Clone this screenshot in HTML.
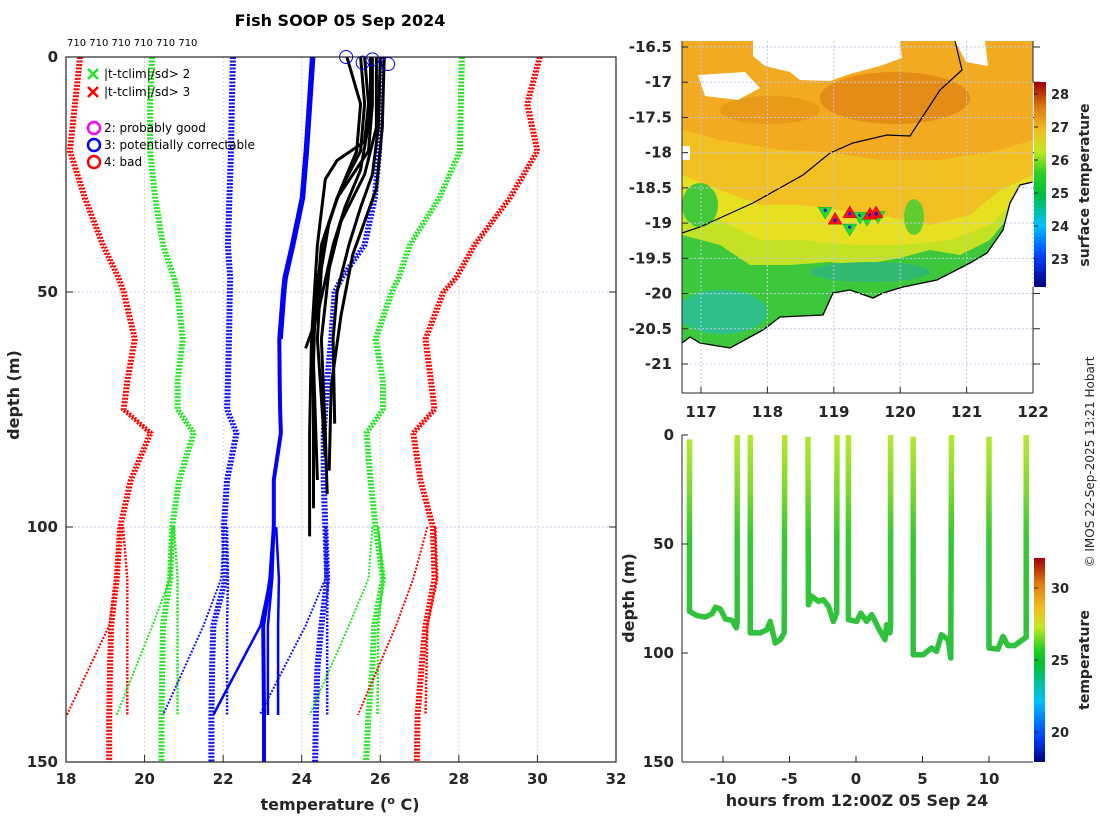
<!DOCTYPE html>
<html><head><meta charset="utf-8"><style>
html,body{margin:0;padding:0;background:#fff;}
svg{display:block;font-family:"DejaVu Sans","Liberation Sans",sans-serif;}
.tk{font-size:15px;font-weight:bold;fill:#262626;}
.lab{font-size:16px;font-weight:bold;fill:#262626;}
.leg{font-size:12px;fill:#000;}
</style></head><body>
<svg id="fig" width="1100" height="820" viewBox="0 0 1100 820" xmlns="http://www.w3.org/2000/svg">
<defs>
<linearGradient id="jet" x1="0" y1="1" x2="0" y2="0">
<stop offset="0" stop-color="#000080"/><stop offset="0.15" stop-color="#0040ff"/><stop offset="0.3" stop-color="#00c0ff"/><stop offset="0.45" stop-color="#00c040"/><stop offset="0.56" stop-color="#30d020"/><stop offset="0.66" stop-color="#c0e820"/><stop offset="0.76" stop-color="#f0c020"/><stop offset="0.87" stop-color="#e08010"/><stop offset="1" stop-color="#a00000"/>
</linearGradient>
<linearGradient id="jet2" x1="0" y1="1" x2="0" y2="0">
<stop offset="0" stop-color="#000080"/><stop offset="0.12" stop-color="#0040ff"/><stop offset="0.3" stop-color="#00c0ff"/><stop offset="0.48" stop-color="#00c030"/><stop offset="0.55" stop-color="#20d020"/><stop offset="0.66" stop-color="#c0e820"/><stop offset="0.75" stop-color="#f0c020"/><stop offset="0.87" stop-color="#e08010"/><stop offset="1" stop-color="#a00000"/>
</linearGradient>
<linearGradient id="tsg" gradientUnits="userSpaceOnUse" x1="0" y1="435" x2="0" y2="660">
<stop offset="0" stop-color="#b8e830"/><stop offset="0.25" stop-color="#7cd830"/><stop offset="0.45" stop-color="#38c832"/><stop offset="1" stop-color="#2cc040"/>
</linearGradient>
<clipPath id="mapclip"><rect x="682" y="41" width="351" height="352"/></clipPath>
<clipPath id="leftclip"><rect x="66" y="57" width="550" height="705"/></clipPath>
</defs>

<text x="340" y="26" text-anchor="middle" style="font-size:16px;font-weight:bold">Fish SOOP 05 Sep 2024</text>
<text x="67" y="46" style="font-size:10px">710 710 710 710 710 710</text>

<g id="left"></g>
<g id="map"></g>
<g id="ts"></g>

<text transform="translate(1094,462) rotate(-90)" text-anchor="middle" style="font-size:12px" fill="#262626">© IMOS 22-Sep-2025 13:21 Hobart</text>
</svg>
<script>
const NS='http://www.w3.org/2000/svg';
function mk(parent,tag,attrs,text){const e=document.createElementNS(NS,tag);for(const k in attrs)e.setAttribute(k,attrs[k]);if(text!==undefined)e.textContent=text;parent.appendChild(e);return e;}

// ===== Left profile plot data =====
const climDepths=[0,10,20,30,40,47,50,60,69,75,80,90,100,111,121,130,140,150];
const climRedL=[18.36,18.23,18.1,18.48,18.94,19.34,19.47,19.75,19.56,19.47,20.15,19.65,19.38,19.29,19.15,19.12,19.1,19.1];
const climGreenL=[20.19,20.14,20.14,20.27,20.47,20.75,20.84,20.97,20.84,20.84,21.25,20.88,20.7,20.65,20.47,20.45,20.43,20.43];
const climBlueL=[22.25,22.22,22.2,22.16,22.12,22.18,22.17,22.15,22.12,22.1,22.34,22.1,22.02,22.06,21.75,21.72,21.7,21.7];
const climMean=[24.26,24.18,24.1,24.0,23.75,23.56,23.52,23.43,23.44,23.45,23.47,23.29,23.29,23.2,23.02,23.03,23.04,23.04];
const climBlueR=[26.07,26.0,25.97,25.86,25.6,25.02,24.84,24.75,24.65,24.6,24.56,24.56,24.6,24.65,24.5,24.4,24.36,24.34];
const climGreenR=[28.08,28.05,28.03,27.5,26.75,26.47,26.29,25.88,26.07,26.07,25.65,25.75,25.88,26.07,25.84,25.8,25.7,25.64];
const climRedR=[30.06,29.74,30.0,29.3,28.4,27.93,27.61,27.15,27.29,27.38,26.84,27.02,27.34,27.38,27.15,27.05,26.95,26.93];
// variant climatology branches (end at 140 m)
const varNearDepths=[100,111,121,140];
const varRedLNear=[19.45,19.56,19.56,19.56];
const varGreenLNear=[20.75,20.84,20.84,20.84];
const varBlueLNear=[22.1,22.12,22.1,22.1];
const varMeanNear=[23.35,23.42,23.4,23.4];
const varMeanNear2=[23.3,23.25,23.14,23.14];
const varBlueRNear=[24.62,24.66,24.65,24.65];
const varGreenRNear=[25.95,26.07,25.95,25.93];
const varRedRNear=[27.4,27.45,27.2,27.15];
const varFarDepths=[100,111,121,140];
const varRedLFar=[19.38,19.29,19.1,18.02];
const varGreenLFar=[20.7,20.65,20.2,19.29];
const varBlueLFar=[22.02,21.95,21.5,20.47];
const varMeanFar=[23.29,23.2,22.95,21.75];
const varBlueRFar=[24.6,24.6,24.1,22.93];
const varGreenRFar=[25.8,25.7,25.2,24.2];
const varRedRFar=[27.2,26.84,26.4,25.43];
// observed profiles
const profDepths=[[0,10,18,22,26,40,60,80,102],[0,10,20,25,30,40,60,80,96],[0,15,25,30,35,45,60,80,93],[0,15,25,32,40,50,60,78],[0,10,20,28,35,45,60,85],[0,10,20,30,38,50,65,90],[0,12,24,32,40,55,62],[0,15,28,35,42,55,70,88]];
const profTemps=[[25.6,25.7,25.6,24.9,24.6,24.4,24.25,24.2,24.2],[25.8,25.8,25.7,25.3,24.9,24.5,24.3,24.3,24.3],[25.9,25.9,25.6,25.3,25.0,24.7,24.5,24.6,24.65],[26.0,25.95,25.8,25.5,25.2,24.9,24.8,24.84],[25.5,25.6,25.5,25.0,24.7,24.5,24.4,24.6],[25.15,25.5,25.4,24.9,24.6,24.35,24.3,24.4],[25.75,25.75,25.5,25.1,24.8,24.4,24.1],[26.1,26.05,25.9,25.6,25.3,25.0,24.75,24.7]];
const flagTemps=[25.13,25.8,25.55,26.2];
const flagDepths=[0,0.5,1.2,1.5];
const xTicksL=[18,20,22,24,26,28,30,32];
const yTicksL=[0,50,100,150];

const xL=t=>66+(t-18)*(550/14);
const yL=d=>57+d*(705/150);

(function(){
 const g=document.getElementById('left');
 xTicksL.slice(1,-1).forEach(t=>{const l=mk(g,'line',{x1:xL(t),x2:xL(t),y1:57,y2:762,stroke:'#e8d0c0','stroke-width':1,'stroke-dasharray':'2 2'});
 
 });
 [50,100].forEach(d=>{const l=mk(g,'line',{x1:66,x2:616,y1:yL(d),y2:yL(d),stroke:'#c0c8e8','stroke-width':1,'stroke-dasharray':'2 2'});
 
 });
 const cg=mk(g,'g',{'clip-path':'url(#leftclip)'});
 function line(ds,ts,col,w,dash,name,dx){
   const pts=ds.map((d,i)=>(xL(ts[i])+(dx||0)).toFixed(1)+','+yL(d).toFixed(1)).join(' ');
   const p=mk(cg,'polyline',{points:pts,fill:'none',stroke:col,'stroke-width':w,'stroke-dasharray':dash||'none','stroke-linejoin':'round'});
   
   
   return p;}
 const fams=[[climRedL,varRedLNear,varRedLFar,'#ff0000','clim-minus-3sd'],[climGreenL,varGreenLNear,varGreenLFar,'#22e622','clim-minus-2sd'],[climBlueL,varBlueLNear,varBlueLFar,'#1010ff','clim-minus-1sd'],[climBlueR,varBlueRNear,varBlueRFar,'#1010ff','clim-plus-1sd'],[climGreenR,varGreenRNear,varGreenRFar,'#22e622','clim-plus-2sd'],[climRedR,varRedRNear,varRedRFar,'#ff0000','clim-plus-3sd']];
 fams.forEach(f=>{
   line(climDepths,f[0],f[3],3,'2 1.5',f[4],-1.5);
   line(climDepths,f[0],f[3],3,'2 1.5',f[4],1.5);
   line(varNearDepths,f[1],f[3],2.5,'2 1.5',f[4]+'-branch');
   line(varFarDepths,f[2],f[3],2,'2 1.5',f[4]+'-branch-far');
 });
 line(climDepths,climMean,'#0000ff',4,null,'clim-mean');
 line(climDepths.slice(0,8),climMean.slice(0,8),'#0000ff',5,null,'clim-mean-upper',1);
 line(varNearDepths,varMeanNear,'#0000ff',2.5,null,'clim-mean-branch');
 line(varNearDepths,varMeanNear2,'#0000ff',2.5,null,'clim-mean-branch');
 line(varFarDepths,varMeanFar,'#0000ff',2.5,null,'clim-mean-branch-far');
 profDepths.forEach((ds,i)=>line(ds,profTemps[i],'#000000',3,null,'observed-profile'));
 flagTemps.forEach((t,i)=>{const c=mk(g,'circle',{cx:xL(t),cy:yL(flagDepths[i]),r:6.5,fill:'none',stroke:'#0000ff','stroke-width':1});
 
 });
 mk(g,'rect',{x:66,y:57,width:550,height:705,fill:'none',stroke:'#262626','stroke-width':1.2});
 xTicksL.forEach(t=>{mk(g,'line',{x1:xL(t),x2:xL(t),y1:762,y2:755,stroke:'#262626'});
 const tx=mk(g,'text',{x:xL(t),y:784,'text-anchor':'middle',class:'tk'},String(t));
 
 });
 yTicksL.forEach(d=>{mk(g,'line',{x1:66,x2:73,y1:yL(d),y2:yL(d),stroke:'#262626'});mk(g,'line',{x1:616,x2:609,y1:yL(d),y2:yL(d),stroke:'#262626'});
 const tx=mk(g,'text',{x:58,y:yL(d)+5,'text-anchor':'end',class:'tk'},String(d));
 
 });
 const xl=mk(g,'text',{x:340,y:810,'text-anchor':'middle',class:'lab'});
 xl.innerHTML='temperature (<tspan dy="-6" style="font-size:11px">o</tspan><tspan dy="6"> C)</tspan>';
 
 
 const yl=mk(g,'text',{transform:'translate(19,395) rotate(-90)','text-anchor':'middle',class:'lab'},'depth (m)');
 
 
 const lg=mk(g,'g',{});
 
 
 [['#22e622',74,'|t-tclim|/sd> 2'],['#ff0000',92,'|t-tclim|/sd> 3']].forEach(a=>{
  mk(lg,'path',{d:`M88 ${a[1]-5} l10 10 M98 ${a[1]-5} l-10 10`,stroke:a[0],'stroke-width':2.5});
  const t=mk(lg,'text',{x:104,y:a[1]+4,class:'leg'},a[2]);
  
  });
 [['#ff00ff',128,'2: probably good'],['#0000ff',145,'3: potentially correctable'],['#ff0000',162,'4: bad']].forEach(a=>{
  mk(lg,'circle',{cx:94,cy:a[1],r:6,fill:'none',stroke:a[0],'stroke-width':2.5});
  const t=mk(lg,'text',{x:104,y:a[1]+4,class:'leg'},a[2]);
  
  });
})();

// ===== Map =====
const mapLonTicks=[117,118,119,120,121,122];
const mapLatTicks=[-16.5,-17,-17.5,-18,-18.5,-19,-19.5,-20,-20.5,-21];
const upLon=[119.02,119.24,119.545,119.636];
const upLat=[-18.93,-18.84,-18.86,-18.84];
const downLon=[118.87,119.24,119.395,119.5,119.665];
const downLat=[-18.86,-19.1,-18.93,-18.96,-18.92];
const sstTicks=[23,24,25,26,27,28];
const xM=lon=>701+(lon-117)*66.4;
const yM=lat=>47+(-16.5-lat)*70.44;
const ySst=v=>259-(v-23)*33;

(function(){
 const g=document.getElementById('map');
 const c=mk(g,'g',{'clip-path':'url(#mapclip)'});
 const coast='682,343 690,337 700,343 730,348 763,330 780,317 823,315 833,293 850,290 873,298 883,293 903,287 937,280 970,263 987,253 1003,230 1010,203 1020,185 1033,182';
 mk(c,'rect',{x:682,y:41,width:351,height:352,fill:'#fff'});
 const sea=mk(c,'polygon',{points:'682,41 1033,41 '+coast.split(' ').reverse().join(' '),fill:'#f2aa20'});
 
 
 mk(c,'ellipse',{cx:895,cy:98,rx:75,ry:26,fill:'#e48c16'});
 mk(c,'ellipse',{cx:770,cy:110,rx:50,ry:14,fill:'#e89a18'});
 mk(c,'polygon',{points:'682,130 720,140 780,150 830,152 880,160 940,160 1000,150 1033,140 1033,400 682,400',fill:'#f2c020'});
 mk(c,'polygon',{points:'682,175 720,190 760,205 800,205 840,210 880,215 930,225 970,215 1000,190 1033,175 1033,400 682,400',fill:'#e6e020'});
 mk(c,'polygon',{points:'682,205 720,220 760,240 800,240 850,245 900,245 950,240 990,225 1015,200 1033,190 1033,400 682,400',fill:'#c4e224'});
 mk(c,'polygon',{points:'682,235 720,245 750,265 790,265 830,262 860,265 900,258 930,250 960,255 990,240 1010,215 1033,195 1033,400 682,400',fill:'#3cc83a'});
 mk(c,'ellipse',{cx:700,cy:205,rx:18,ry:22,fill:'#44c83a'});
 mk(c,'ellipse',{cx:914,cy:217,rx:10,ry:18,fill:'#60cc30'});
 mk(c,'ellipse',{cx:722,cy:312,rx:45,ry:22,fill:'#2cbf8a'});
 mk(c,'ellipse',{cx:870,cy:272,rx:60,ry:10,fill:'#30b870'});
 mk(c,'polygon',{points:'753,41 900,41 902,58 880,66 850,74 830,81 800,80 790,72 765,66 753,56',fill:'#fff'});
 mk(c,'polygon',{points:'698,75 745,72 760,88 738,100 705,96',fill:'#fff'});
 mk(c,'polygon',{points:'955,41 985,41 988,66 966,62',fill:'#fff'});
 mk(c,'rect',{x:682,y:146,width:8,height:14,fill:'#fff'});
 const land=mk(c,'polygon',{points:coast+' 1033,400 682,400',fill:'#fff'});
 
 
 const cl=mk(c,'polyline',{points:coast,fill:'none',stroke:'#000','stroke-width':1.3});
 
 
 const sh=mk(c,'polyline',{points:'682,233 700,227 753,203 803,175 830,153 853,143 887,135 910,136 927,110 940,90 962,70 955,41',fill:'none',stroke:'#000','stroke-width':1.2});
 
 
 mapLonTicks.forEach(lon=>{mk(g,'line',{x1:xM(lon),x2:xM(lon),y1:41,y2:393,stroke:'#c0c8e8','stroke-dasharray':'2 2'});});
 mapLatTicks.forEach(lat=>{mk(g,'line',{x1:682,x2:1033,y1:yM(lat),y2:yM(lat),stroke:'#c0c8e8','stroke-dasharray':'2 2'});});
 downLon.forEach((lon,i)=>{const x=xM(lon),y=yM(downLat[i]);const p=mk(g,'polygon',{points:`${x-7},${y-6} ${x+7},${y-6} ${x},${y+6}`,fill:'#20e030',stroke:'#10a040','stroke-width':0.5});
 
 
 mk(g,'circle',{cx:x,cy:y-3,r:1.6,fill:'#0000ff'});});
 upLon.forEach((lon,i)=>{const x=xM(lon),y=yM(upLat[i]);const p=mk(g,'polygon',{points:`${x-7},${y+6} ${x+7},${y+6} ${x},${y-6}`,fill:'#ff1010',stroke:'#c00000','stroke-width':0.5});
 
 
 mk(g,'circle',{cx:x,cy:y+2,r:1.6,fill:'#0000ff'});});
 mk(g,'line',{x1:682,x2:682,y1:41,y2:393,stroke:'#262626'});
 mk(g,'line',{x1:682,x2:1033,y1:393,y2:393,stroke:'#262626'});
 mk(g,'line',{x1:1033,x2:1033,y1:41,y2:82,stroke:'#262626'});
 mk(g,'line',{x1:1033,x2:1033,y1:287,y2:393,stroke:'#262626'});
 mapLonTicks.forEach(lon=>{mk(g,'line',{x1:xM(lon),x2:xM(lon),y1:393,y2:387,stroke:'#262626'});
 const t=mk(g,'text',{x:xM(lon),y:417,'text-anchor':'middle',class:'tk'},String(lon));
 
 });
 mapLatTicks.forEach(lat=>{mk(g,'line',{x1:682,x2:688,y1:yM(lat),y2:yM(lat),stroke:'#262626'});mk(g,'line',{x1:1033,x2:1040,y1:yM(lat),y2:yM(lat),stroke:'#262626'});
 const t=mk(g,'text',{x:672,y:yM(lat)+5,'text-anchor':'end',class:'tk'},String(lat));
 
 });
 const cb=mk(g,'rect',{x:1034,y:82,width:12,height:205,fill:'url(#jet)'});
 
 
 sstTicks.forEach(v=>{mk(g,'line',{x1:1034,x2:1038,y1:ySst(v),y2:ySst(v),stroke:'#262626'});
 const t=mk(g,'text',{x:1051,y:ySst(v)+5,class:'tk',style:'font-size:13px'},String(v));
 
 });
 const lt=mk(g,'text',{transform:'translate(1089,185) rotate(-90)','text-anchor':'middle',class:'tk',style:'font-size:14px'},'surface temperature');
 
 
})();

// ===== Depth-time plot =====
const segHours=[[-12.52,-12.52,-11.95,-11.32,-10.82,-10.57,-10.2,-9.82,-9.32,-9.0,-8.93,-8.93],[-7.95,-7.95,-7.2,-6.7,-6.45,-6.07,-5.7,-5.4,-5.35],[-3.62,-3.58,-3.32,-2.82,-2.45,-2.07,-1.7,-1.45,-1.43],[-0.57,-0.57,0.05,0.35,0.8,1.18,1.68,2.18,2.3,2.55,2.6,2.6],[4.3,4.3,5.05,5.68,6.05,6.43,6.93,7.13,7.18],[10,10,10.68,11.05,11.42,11.92,12.8,12.8]];
const segDepths=[[2,80.9,82.9,83.5,82,79,79.8,84.4,85,88.5,86,0],[0,90.8,90.8,89.3,85.5,95.4,93.9,90.8,0],[0.8,77.9,74,76.3,75.6,78.6,85.5,81.7,0],[0,84.7,85.5,81.7,85.5,82.4,88.5,93.9,87,90.8,88,0],[0.8,100.8,100.8,97.7,99.2,91.6,93.9,102.3,0],[0.8,97.7,98.2,92.4,96.6,96.6,92.7,0]];
const hrTicks=[-10,-5,0,5,10];
const dTicks=[0,50,100,150];
const tempTicks=[20,25,30];
const xT=h=>856+h*13.3;
const yT=d=>435+d*(327/150);
const yCb=v=>660-(v-25)*14.4;

(function(){
 const g=document.getElementById('ts');
 segHours.forEach((hs,i)=>{const pts=hs.map((h,j)=>xT(h).toFixed(1)+','+yT(segDepths[i][j]).toFixed(1)).join(' ');
  const p=mk(g,'polyline',{points:pts,fill:'none',stroke:'url(#tsg)','stroke-width':5.5,'stroke-linejoin':'round'});
  
  });
 mk(g,'line',{x1:682,x2:682,y1:435,y2:762,stroke:'#262626'});
 mk(g,'line',{x1:682,x2:1033,y1:762,y2:762,stroke:'#262626'});
 hrTicks.forEach(h=>{mk(g,'line',{x1:xT(h),x2:xT(h),y1:762,y2:756,stroke:'#262626'});
 const t=mk(g,'text',{x:xT(h),y:784,'text-anchor':'middle',class:'tk'},String(h));
 
 });
 dTicks.forEach(d=>{mk(g,'line',{x1:682,x2:688,y1:yT(d),y2:yT(d),stroke:'#262626'});
 const t=mk(g,'text',{x:674,y:yT(d)+5,'text-anchor':'end',class:'tk'},String(d));
 
 });
 const xl=mk(g,'text',{x:857,y:806,'text-anchor':'middle',class:'lab'},'hours from 12:00Z 05 Sep 24');
 
 
 const yl=mk(g,'text',{transform:'translate(634,598) rotate(-90)','text-anchor':'middle',class:'lab'},'depth (m)');
 
 
 const cb=mk(g,'rect',{x:1034,y:558,width:11,height:204,fill:'url(#jet2)'});
 
 
 tempTicks.forEach(v=>{mk(g,'line',{x1:1034,x2:1038,y1:yCb(v),y2:yCb(v),stroke:'#262626'});
 const t=mk(g,'text',{x:1051,y:yCb(v)+5,class:'tk',style:'font-size:13px'},String(v));
 
 });
 const lt=mk(g,'text',{transform:'translate(1089,660) rotate(-90)','text-anchor':'middle',class:'tk',style:'font-size:14px'},'temperature');
 
 
})();
</script>
</body></html>
